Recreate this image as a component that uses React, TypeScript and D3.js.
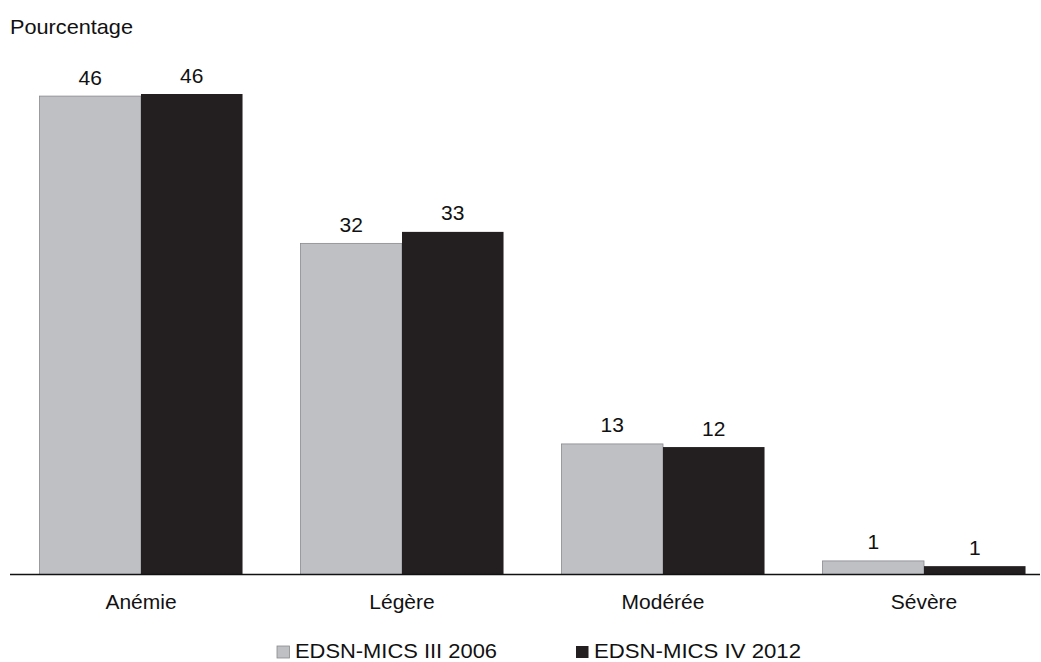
import React from "react";
import * as d3 from "d3";

const categories = ["Anémie", "Légère", "Modérée", "Sévère"];
const series = ["EDSN-MICS III 2006", "EDSN-MICS IV 2012"];
const values2006 = [45.8, 31.7, 12.5, 1.3];
const values2012 = [46.0, 32.8, 12.2, 0.8];
const labels2006 = ["46", "32", "13", "1"];
const labels2012 = ["46", "33", "12", "1"];
const colors = ["#bfc0c4", "#231f20"];
const strokes = ["#8a8a8e", "#231f20"];

export default function App() {
  const W = 1041, H = 662;
  const baseY = 574.5;
  const font = "Arial, 'Liberation Sans', sans-serif";
  const x = d3.scaleBand<string>().domain(categories).range([10.5, 1054.5]).paddingInner(0.222).paddingOuter(0.111);
  const sub = d3.scaleBand<string>().domain(series).range([0, x.bandwidth()]);
  const y = d3.scaleLinear().domain([0, 46]).range([baseY, 94]);
  const data = [values2006, values2012];
  const labs = [labels2006, labels2012];
  const legendX = [277, 576];
  const legendW = [202, 207];
  return (
    <svg width={W} height={H} style={{ position: "absolute", left: 0, top: 0, background: "#fff" }} fontFamily={font}>
      <text x={10} y={33.5} fontSize={21} fill="#111" textLength={123} lengthAdjust="spacingAndGlyphs">Pourcentage</text>
      {categories.map((c, i) => (
        <g key={c}>
          {series.map((s, j) => {
            const v = data[j][i];
            const bx = (x(c) as number) + (sub(s) as number);
            return (
              <g key={s}>
                <rect x={bx} y={y(v)} width={sub.bandwidth()} height={baseY - y(v)} fill={colors[j]}
                  stroke={j === 0 ? strokes[0] : "none"} strokeWidth={0.8} />
                <text x={bx + sub.bandwidth() / 2} y={y(v) - 11.5} textAnchor="middle" fontSize={21} fill="#111">{labs[j][i]}</text>
              </g>
            );
          })}
          <text x={(x(c) as number) + x.bandwidth() / 2} y={608.5} textAnchor="middle" fontSize={21} fill="#111">{c}</text>
        </g>
      ))}
      <line x1={10} x2={1040} y1={baseY} y2={baseY} stroke="#111" strokeWidth={1.5} />
      {series.map((s, j) => (
        <g key={s}>
          <rect x={legendX[j]} y={646} width={12.5} height={12} fill={colors[j]} stroke={j === 0 ? strokes[0] : "none"} strokeWidth={0.8} />
          <text x={legendX[j] + 18} y={657.5} fontSize={20} fill="#111" textLength={legendW[j]} lengthAdjust="spacingAndGlyphs">{s}</text>
        </g>
      ))}
    </svg>
  );
}
